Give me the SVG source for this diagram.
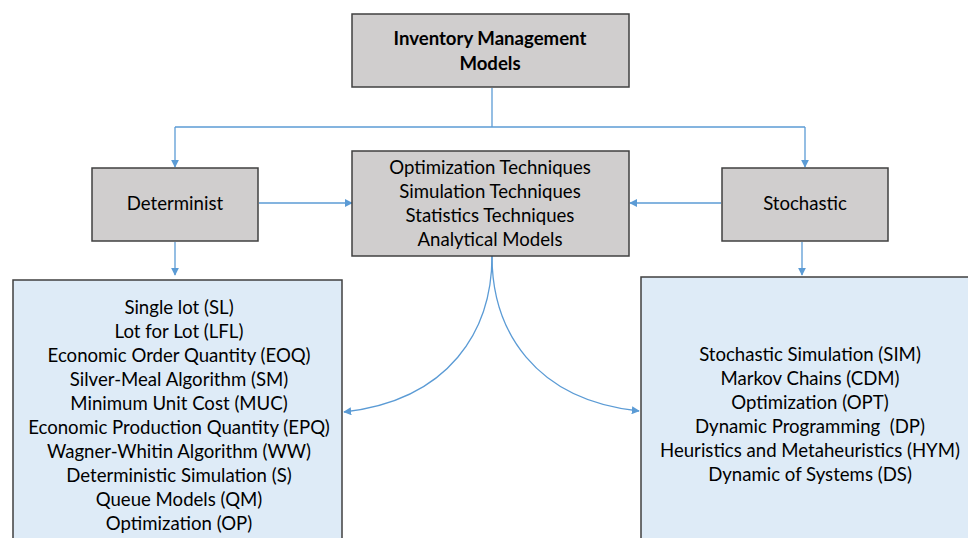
<svg xmlns="http://www.w3.org/2000/svg" width="968" height="538" viewBox="0 0 968 538">
<defs>
<style>
.g{fill:#d0cece;stroke:#404040;stroke-width:1.5}
.b{fill:#deebf7;stroke:#404040;stroke-width:1.5}
text{font-family:Lato,"Open Sans",sans-serif;font-size:18.6px;fill:#000;text-anchor:middle}
.bold{font-weight:bold}
.c{fill:none;stroke:#5b9bd5;stroke-width:1.3}
</style>
<marker id="ah" viewBox="0 0 10 10" refX="9" refY="5" markerWidth="8" markerHeight="8" markerUnits="userSpaceOnUse" orient="auto">
<path d="M0,0 L10,5 L0,10 z" fill="#5b9bd5"/>
</marker>
</defs>
<rect width="968" height="538" fill="#fff"/>
<g id="connectors">
<path class="c" d="M492,88 V127"/>
<path class="c" d="M175,127 H805" />
<path class="c" d="M175,127 V167" marker-end="url(#ah)"/>
<path class="c" d="M805,127 V167" marker-end="url(#ah)"/>
<path class="c" d="M259,203 H352" marker-end="url(#ah)"/>
<path class="c" d="M721,203 H630" marker-end="url(#ah)"/>
<path class="c" d="M175,242 V275" marker-end="url(#ah)"/>
<path class="c" d="M802,242 V275" marker-end="url(#ah)"/>
<path class="c" d="M492,256 C492,330 450,400 344,412" marker-end="url(#ah)"/>
<path class="c" d="M492,256 C492,330 534,400 639,411" marker-end="url(#ah)"/>
</g>
<g id="top">
<rect class="g" x="352" y="14" width="277" height="73"/>
<text class="bold" x="490" y="45">Inventory Management</text>
<text class="bold" x="490" y="70">Models</text>
</g>
<g id="determinist">
<rect class="g" x="92" y="168" width="166" height="73"/>
<text x="175" y="210">Determinist</text>
</g>
<g id="techniques">
<rect class="g" x="352" y="151" width="277" height="105"/>
<text x="490" y="174">Optimization Techniques</text>
<text x="490" y="198">Simulation Techniques</text>
<text x="490" y="222">Statistics Techniques</text>
<text x="490" y="246">Analytical Models</text>
</g>
<g id="stochastic">
<rect class="g" x="722" y="168" width="166" height="73"/>
<text x="805" y="210">Stochastic</text>
</g>
<g id="det-models">
<rect class="b" x="13" y="280" width="329" height="270"/>
<text x="179" y="314">Single lot (SL)</text>
<text x="179" y="338">Lot for Lot (LFL)</text>
<text x="179" y="362">Economic Order Quantity (EOQ)</text>
<text x="179" y="386">Silver-Meal Algorithm (SM)</text>
<text x="179" y="410">Minimum Unit Cost (MUC)</text>
<text x="179" y="434">Economic Production Quantity (EPQ)</text>
<text x="179" y="458">Wagner-Whitin Algorithm (WW)</text>
<text x="179" y="482">Deterministic Simulation (S)</text>
<text x="179" y="506">Queue Models (QM)</text>
<text x="179" y="530">Optimization (OP)</text>
</g>
<g id="sto-models">
<rect class="b" x="641" y="277" width="340" height="275"/>
<text x="810" y="361">Stochastic Simulation (SIM)</text>
<text x="810" y="385">Markov Chains (CDM)</text>
<text x="810" y="409">Optimization (OPT)</text>
<text x="810" y="433" xml:space="preserve">Dynamic Programming  (DP)</text>
<text x="810" y="457">Heuristics and Metaheuristics (HYM)</text>
<text x="810" y="481">Dynamic of Systems (DS)</text>
</g>
</svg>
